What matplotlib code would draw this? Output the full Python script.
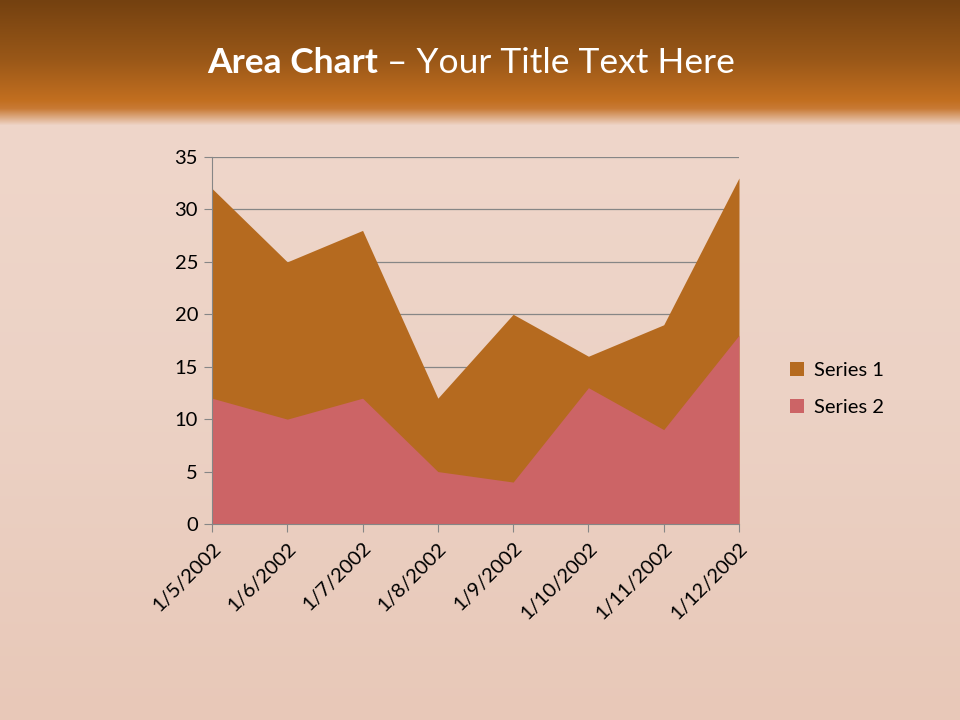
import numpy as np
import matplotlib
matplotlib.use("Agg")
import matplotlib.pyplot as plt
from matplotlib.colors import to_rgb

categories = ["1/5/2002", "1/6/2002", "1/7/2002", "1/8/2002",
              "1/9/2002", "1/10/2002", "1/11/2002", "1/12/2002"]
series1 = [32, 25, 28, 12, 20, 16, 19, 33]
series2 = [12, 10, 12, 5, 4, 13, 9, 18]
series_names = ["Series 1", "Series 2"]
yticks = [0, 5, 10, 15, 20, 25, 30, 35]

c1 = "#B56A1F"
c2 = "#CC6466"

plt.rcParams['font.family'] = ['Lato', 'DejaVu Sans']

W, H = 960, 720
fig = plt.figure(figsize=(W / 100, H / 100), dpi=100)

# background gradient
bg = fig.add_axes([0, 0, 1, 1])
bg.set_axis_off()
ys = np.arange(H)
stops = [(0, "#744110"), (60, "#9A5818"), (100, "#C26F20"), (108, "#C87A35"),
         (125, "#EFD6CA"), (400, "#ECD2C5"), (720, "#E8C8B8")]
pos = [s[0] for s in stops]
cols = np.array([to_rgb(s[1]) for s in stops])
img = np.zeros((H, 1, 3))
for k in range(3):
    img[:, 0, k] = np.interp(ys, pos, cols[:, k])
bg.imshow(img, aspect='auto', extent=[0, 1, 1, 0], interpolation='bilinear')
bg.set_xlim(0, 1)
bg.set_ylim(1, 0)

# title
ty = 1 - 63 / 720
t1 = fig.text(207 / 960, ty, "Area Chart", fontsize=25.5, fontweight='bold',
              color='white', ha='left', va='center')
fig.canvas.draw()
bb = t1.get_window_extent()
fig.text(bb.x1 / W, ty, " \u2013 Your Title Text Here", fontsize=25.5,
         color='white', ha='left', va='center')

# chart
ax = fig.add_axes([212 / 960, 1 - 524 / 720, (739 - 212) / 960, (524 - 157) / 720])
ax.patch.set_alpha(0)
x = np.arange(len(categories))
ax.fill_between(x, 0, series1, color=c1, linewidth=0, zorder=2, label=series_names[0])
ax.fill_between(x, 0, series2, color=c2, linewidth=0, zorder=3, label=series_names[1])
ax.set_xlim(0, len(categories) - 1)
ax.set_ylim(0, 35)
ax.set_yticks(yticks)
ax.set_yticklabels([str(v) for v in yticks], fontsize=14.5, color='black')
ax.set_xticks(x)
ax.set_xticklabels(categories, rotation=45, ha='right', rotation_mode='anchor',
                   fontsize=14.5, color='black')
ax.grid(axis='y', color='#868686', linewidth=0.9, zorder=1)
ax.set_axisbelow(True)
for s in ['top', 'right']:
    ax.spines[s].set_visible(False)
for s in ['left', 'bottom']:
    ax.spines[s].set_color('#868686')
    ax.spines[s].set_zorder(4)
ax.tick_params(axis='y', length=6, color='#868686', pad=4)
ax.tick_params(axis='x', length=6, color='#868686', pad=5)

leg = ax.legend(loc='center left', bbox_to_anchor=(772 / 960, 1 - 389 / 720),
                bbox_transform=fig.transFigure, frameon=False, fontsize=14.5,
                handlelength=0.7, handleheight=0.7, handletextpad=0.5,
                labelspacing=1.0)

fig.savefig("out.png", dpi=100)
